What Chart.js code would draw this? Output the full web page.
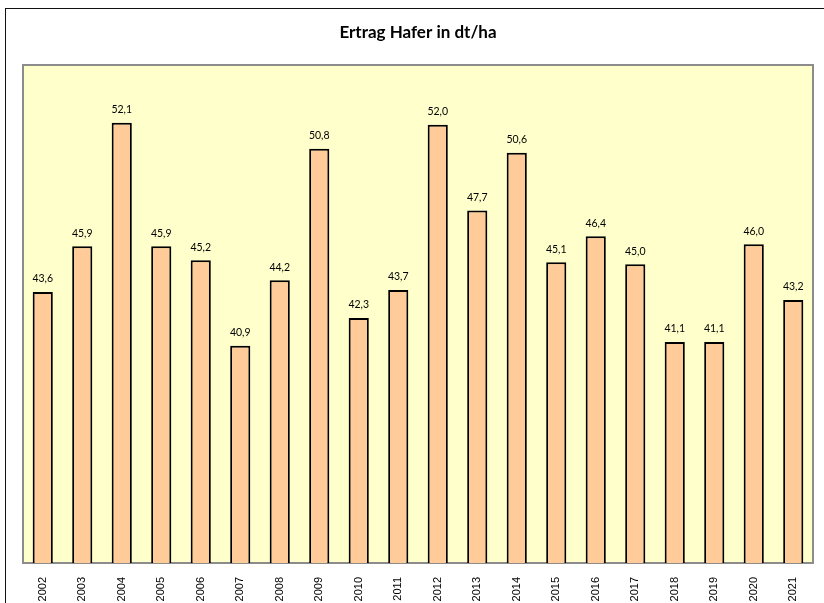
<!DOCTYPE html>
<html>
<head>
<meta charset="utf-8">
<script src="https://cdn.jsdelivr.net/npm/chart.js@4/dist/chart.umd.min.js"></script>
<style>
  html, body { margin: 0; padding: 0; background: #fff; }
  #wrap { width: 824px; height: 603px; }
</style>
</head>
<body>
<div id="wrap"><canvas id="myChart" width="824" height="603"></canvas></div>
<script>
// Daten
var jahre = ['2002','2003','2004','2005','2006','2007','2008','2009','2010','2011',
             '2012','2013','2014','2015','2016','2017','2018','2019','2020','2021'];
var ertrag = [43.6, 45.9, 52.1, 45.9, 45.2, 40.9, 44.2, 50.8, 42.3, 43.7,
              52.0, 47.7, 50.6, 45.1, 46.4, 45.0, 41.1, 41.1, 46.0, 43.2];
var yMin = 30;
var yMax = 55;

// Rahmen + Hintergrund der Zeichenfläche
var rahmenPlugin = {
  id: 'rahmen',
  beforeDraw: function(chart) {
    var ctx = chart.ctx;
    var a = chart.chartArea;
    ctx.save();
    ctx.fillStyle = '#fff';
    ctx.fillRect(0, 0, chart.width, chart.height);
    // äußerer Rahmen
    ctx.strokeStyle = '#111';
    ctx.lineWidth = 1;
    ctx.strokeRect(5.5, 8.5, chart.width + 20, chart.height + 20);
    // Zeichenfläche
    ctx.fillStyle = '#FFFFCC';
    ctx.fillRect(a.left, a.top, a.right - a.left, a.bottom - a.top);
    ctx.strokeStyle = '#8c8c8c';
    ctx.lineWidth = 2;
    ctx.strokeRect(a.left, a.top, a.right - a.left, a.bottom - a.top);
    ctx.restore();
  }
};

// Werte über den Balken
var wertePlugin = {
  id: 'werte',
  afterDatasetsDraw: function(chart) {
    var ctx = chart.ctx;
    var meta = chart.getDatasetMeta(0);
    ctx.save();
    ctx.fillStyle = '#000';
    ctx.font = '10.5px Lato, sans-serif';
    ctx.textAlign = 'center';
    ctx.textBaseline = 'middle';
    meta.data.forEach(function(bar, i) {
      var txt = ertrag[i].toFixed(1).replace('.', ',');
      ctx.fillText(txt, bar.x, bar.y - 13);
    });
    ctx.restore();
  }
};

var ctx = document.getElementById('myChart').getContext('2d');
var myChart = new Chart(ctx, {
  type: 'bar',
  data: {
    labels: jahre,
    datasets: [{
      label: 'Ertrag',
      data: ertrag,
      backgroundColor: '#FFCC99',
      borderColor: '#000',
      borderWidth: 2,
      barPercentage: 0.51,
      categoryPercentage: 1.0
    }]
  },
  options: {
    responsive: false,
    animation: false,
    devicePixelRatio: 1,
    layout: { padding: { left: 23, right: 11, top: 0, bottom: 0 } },
    plugins: {
      legend: { display: false },
      tooltip: { enabled: false },
      title: {
        display: true,
        text: 'Ertrag Hafer in dt/ha',
        color: '#000',
        font: { family: 'Lato, sans-serif', size: 17, weight: 'bold' },
        padding: { top: 22, bottom: 22.6 }
      }
    },
    scales: {
      x: {
        grid: { display: false },
        border: { display: false },
        ticks: {
          color: '#000',
          font: { family: '"Liberation Sans", Arial, sans-serif', size: 11 },
          minRotation: 90,
          maxRotation: 90,
          padding: 6
        },
        afterFit: function(scale) { scale.height = 40; }
      },
      y: {
        display: false,
        min: yMin,
        max: yMax
      }
    }
  },
  plugins: [rahmenPlugin, wertePlugin]
});
</script>
</body>
</html>
